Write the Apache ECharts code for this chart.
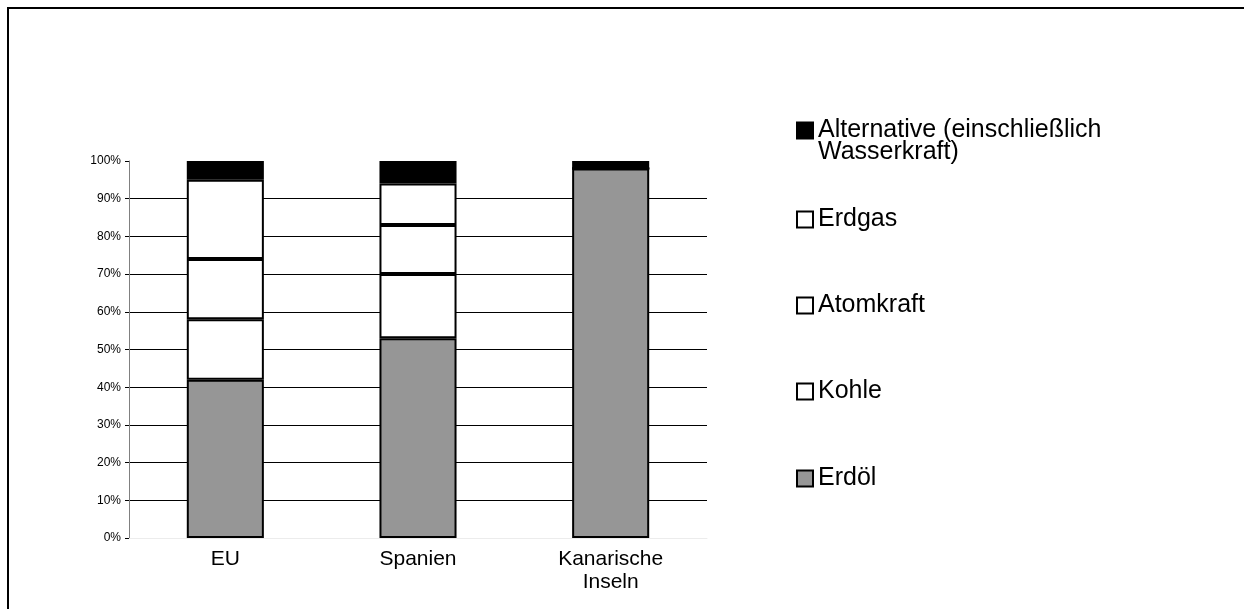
<!DOCTYPE html>
<html>
<head>
<meta charset="utf-8">
<script src="https://cdn.jsdelivr.net/npm/echarts@6/dist/echarts.min.js"></script>
<style>
  html, body { margin: 0; padding: 0; background: #fff; }
  #chart { width: 1244px; height: 609px; }
</style>
</head>
<body>
<div id="chart"></div>
<script>
// Energy mix by region, shares in percent
const regions = ['EU', 'Spanien', 'Kanarische Inseln'];
const erdoel = [42, 53, 98];
const kohle = [16, 17, 0];
const atomkraft = [16, 13, 0];
const erdgas = [21, 11, 0];
const alternative = [5, 6, 2];
const yTicks = [0, 10, 20, 30, 40, 50, 60, 70, 80, 90, 100];

const FONT = 'Liberation Sans, Arial, sans-serif';
const GRAY = '#969696';

const seriesDefs = [
  { name: 'Erdöl', data: erdoel, color: GRAY },
  { name: 'Kohle', data: kohle, color: '#ffffff' },
  { name: 'Atomkraft', data: atomkraft, color: '#ffffff' },
  { name: 'Erdgas', data: erdgas, color: '#ffffff' },
  { name: 'Alternative (einschließlich Wasserkraft)', data: alternative, color: '#000000' }
];

// legend rows, top to bottom; the two-line entry starts with an empty line
// so that its first line sits level with the swatch
const legendRows = [
  { name: 'Alternative (einschließlich Wasserkraft)', top: 96, label: '\nAlternative (einschließlich\nWasserkraft)' },
  { name: 'Erdgas', top: 207 },
  { name: 'Atomkraft', top: 293 },
  { name: 'Kohle', top: 379 },
  { name: 'Erdöl', top: 466 }
];

const chart = echarts.init(document.getElementById('chart'), null, { renderer: 'canvas' });

const option = {
  animation: false,
  backgroundColor: '#ffffff',
  graphic: [{
    type: 'rect',
    shape: { x: 8, y: 8, width: 1400, height: 800 },
    style: { fill: 'none', stroke: '#000', lineWidth: 2 },
    silent: true,
    z: 100
  }],
  grid: { left: 129, right: 537, top: 161, bottom: 71, containLabel: false },
  legend: legendRows.map(r => ({
    data: [r.name],
    left: 796,
    top: r.top,
    padding: 0,
    selectedMode: false,
    itemWidth: 16,
    itemHeight: 16,
    icon: 'rect',
    itemStyle: { borderColor: '#000', borderWidth: 2 },
    formatter: () => r.label || r.name,
    textStyle: {
      fontFamily: FONT,
      fontSize: 25,
      color: '#000',
      lineHeight: 22
    }
  })),
  xAxis: {
    type: 'category',
    data: regions,
    axisLine: { show: true, lineStyle: { color: '#ececec', width: 1 } },
    axisTick: { show: false },
    axisLabel: {
      fontFamily: FONT,
      fontSize: 21,
      color: '#000',
      lineHeight: 23,
      margin: 10,
      interval: 0,
      formatter: v => v.replace(' ', '\n')
    }
  },
  yAxis: {
    type: 'value',
    min: yTicks[0],
    max: yTicks[yTicks.length - 1],
    interval: yTicks[1] - yTicks[0],
    axisLine: { show: true, lineStyle: { color: '#808080', width: 1 } },
    axisTick: { show: true, length: 4, lineStyle: { color: '#000' } },
    axisLabel: {
      fontFamily: FONT,
      fontSize: 12,
      color: '#000',
      margin: 8,
      formatter: v => v + '%'
    },
    splitLine: {
      show: true,
      showMinLine: false,
      showMaxLine: false,
      lineStyle: { color: '#000', width: 1 }
    }
  },
  series: seriesDefs.map(s => ({
    name: s.name,
    type: 'bar',
    stack: 'total',
    data: s.data,
    barWidth: '40%',
    itemStyle: { color: s.color, borderColor: '#000', borderWidth: 2 },
    emphasis: { disabled: true }
  }))
};

chart.setOption(option);
</script>
</body>
</html>
